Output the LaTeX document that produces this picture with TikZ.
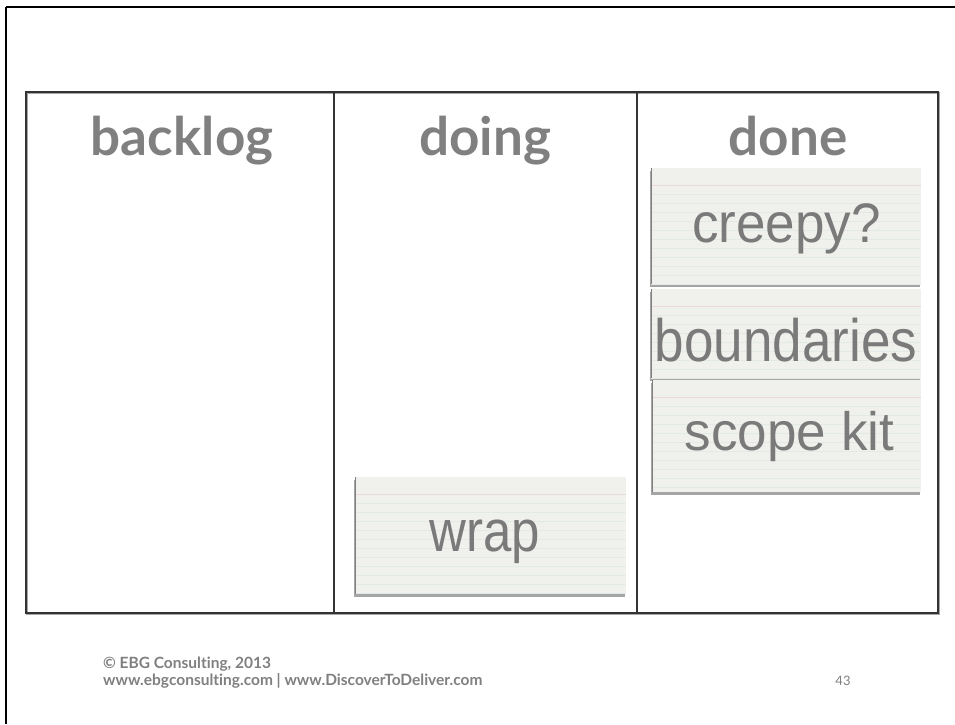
\documentclass[tikz,border=0pt]{standalone}
\usepackage{fontspec}
\setmainfont{Liberation Sans}
\newfontfamily\headfont[Ligatures={NoCommon}]{Lato}
\usetikzlibrary{shadows}
\definecolor{txtgray}{HTML}{7A7A7A}
\definecolor{headgray}{HTML}{808080}
\definecolor{cardfill}{HTML}{F0F0EC}
\definecolor{cardline}{HTML}{E2EAE8}
\definecolor{redline}{HTML}{ECD8D8}
\definecolor{frame}{HTML}{333333}
\begin{document}
\begin{tikzpicture}[x=1pt,y=-1pt,
  cardbox/.style={fill=cardfill, draw=none, inner sep=0pt, outer sep=0pt,
    drop shadow={shadow xshift=-1pt, shadow yshift=-2.5pt, opacity=0.5, fill=black!70},
    path picture={
      \foreach \i in {1,...,14}{
        \draw[cardline, line width=0.6pt]
          ([yshift=-17pt-\i*9pt]path picture bounding box.north west) --
          ([yshift=-17pt-\i*9pt]path picture bounding box.north east);}
      \draw[redline, line width=0.7pt]
          ([yshift=-17pt]path picture bounding box.north west) --
          ([yshift=-17pt]path picture bounding box.north east);
      \draw[black!50, line width=1.2pt]
          (path picture bounding box.north west) -- (path picture bounding box.south west);
    }},
  cardtext/.style={anchor=base, inner sep=0pt, text=txtgray},
  head/.style={anchor=base, inner sep=0pt, text=headgray, font=\headfont\bfseries\fontsize{53}{56}\selectfont},
  foot/.style={anchor=base west, inner sep=0pt, text=headgray, font=\headfont\bfseries\fontsize{15.5}{17}\selectfont}
]
\useasboundingbox (0,0) rectangle (955,724);
\fill[white] (0,0) rectangle (955,724);
% outer frame lines
\coordinate (ftl) at (6,7);
\coordinate (ftr) at (955,7);
\coordinate (fbl) at (6,724);
\draw[black, line width=2.6pt] (ftl) -- (ftr);
\draw[black, line width=2pt] (ftl) -- (fbl);
% table
\coordinate (tnw) at (26,92);
\coordinate (tse) at (938,613);
\coordinate (d1t) at (334,92);
\coordinate (d1b) at (334,613);
\coordinate (d2t) at (637,92);
\coordinate (d2b) at (637,613);
\draw[black!35, line width=1.6pt] ([xshift=1pt,yshift=-1pt]tnw) rectangle ([xshift=1pt,yshift=-1pt]tse);
\draw[frame, line width=1.3pt] (tnw) rectangle (tse);
\draw[frame, line width=1.2pt] (d1t) -- (d1b);
\draw[frame, line width=1.2pt] (d2t) -- (d2b);
% headers
\node[head] (hbacklog) at (182,155) {backlog};
\node[head] (hdoing) at (485,155) {doing};
\node[head] (hdone) at (788,155) {done};
% cards
\node[cardbox, minimum width=270pt, minimum height=116pt, anchor=north west] (c1) at (651,168) {};
\node[cardbox, minimum width=270pt, minimum height=89pt, anchor=north west] (c2) at (651,289) {};
\node[cardbox, minimum width=269pt, minimum height=112pt, anchor=north west] (c3) at (652,380) {};
\node[cardbox, minimum width=271pt, minimum height=117pt, anchor=north west] (c4) at (355,477) {};
\node[cardtext, font=\fontsize{53}{56}\selectfont] (t1) at (786.5,242.5) {\scalebox{1}[1.05]{creepy?}};
\node[cardtext, font=\fontsize{53}{56}\selectfont] (t2) at (786,361.5) {\scalebox{1}[1.13]{boundaries}};
\node[cardtext, font=\fontsize{53}{56}\selectfont] (t3) at (789.5,450) {\scalebox{1}[1.02]{scope kit}};
\node[cardtext, font=\fontsize{51}{54}\selectfont] (t4) at (484.5,551.5) {\scalebox{1}[1.15]{wrap}};
% footer
\node[foot] (f1) at (103,668) {© EBG Consulting, 2013};
\node[foot] (f2) at (103,685) {www.ebgconsulting.com | www.DiscoverToDeliver.com};
\node[anchor=base, inner sep=0pt, text=headgray, font=\headfont\fontsize{13}{15}\selectfont] (pg) at (843,685) {43};
\end{tikzpicture}
\end{document}
